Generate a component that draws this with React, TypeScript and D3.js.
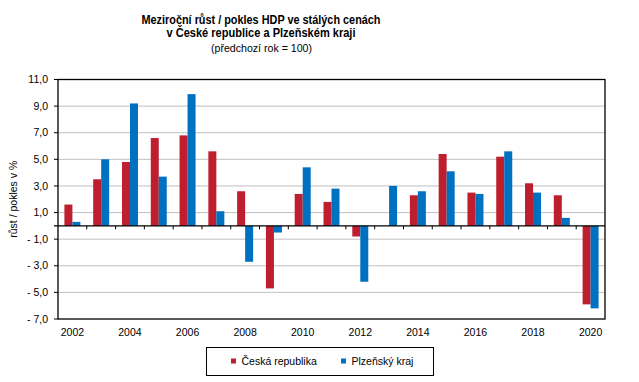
import React from 'react';
import * as d3 from 'd3';

const years = ['2002','2003','2004','2005','2006','2007','2008','2009','2010','2011','2012','2013','2014','2015','2016','2017','2018','2019','2020'];
const czValues = [1.6, 3.5, 4.8, 6.6, 6.8, 5.6, 2.6, -4.7, 2.4, 1.8, -0.8, 0.0, 2.3, 5.4, 2.5, 5.2, 3.2, 2.3, -5.9];
const plzenValues = [0.3, 5.0, 9.2, 3.7, 9.9, 1.1, -2.7, -0.5, 4.4, 2.8, -4.2, 3.0, 2.6, 4.1, 2.4, 5.6, 2.5, 0.6, -6.2];
const yTicks = [11, 9, 7, 5, 3, 1, -1, -3, -5, -7];
const seriesNames = ['Česká republika', 'Plzeňský kraj'];
const colors = ['#be1e2d', '#0070c0'];
const titleLines = ['Meziroční růst  / pokles HDP ve stálých cenách', 'v České republice a Plzeňském kraji', '(předchozí  rok = 100)'];

const W = 639, H = 382;
const plot = { left: 58, right: 605, top: 79.5, bottom: 319 };
const font = '"Liberation Sans", Arial, sans-serif';

const fmt = (v: number) => {
  const s = Math.abs(v).toFixed(1).replace('.', ',');
  return v < 0 ? '- ' + s : s;
};

export default function App() {
  const x = d3.scaleBand<string>().domain(years).range([plot.left, plot.right]).padding(0);
  const x1 = d3.scaleBand<string>().domain(seriesNames).range([0, x.bandwidth()]).paddingInner(0).paddingOuter(0.8);
  const y = d3.scaleLinear().domain([-7, 11]).range([plot.bottom, plot.top]);
  const y0 = y(0);
  const series = [czValues, plzenValues];

  return (
    <svg width={W} height={H} style={{ position: 'absolute', left: 0, top: 0, background: '#fff' }} fontFamily={font}>
      <rect width={W} height={H} fill="#fff" />
      {/* title */}
      <g textAnchor="middle" fill="#000">
        <text x={261} y={23.5} fontSize={12.5} fontWeight="bold" textLength={239} lengthAdjust="spacingAndGlyphs">{titleLines[0]}</text>
        <text x={261} y={37} fontSize={12.5} fontWeight="bold" textLength={189} lengthAdjust="spacingAndGlyphs">{titleLines[1]}</text>
        <text x={261.5} y={52} fontSize={11.5} textLength={101} lengthAdjust="spacingAndGlyphs">{titleLines[2]}</text>
      </g>

      {/* gridlines */}
      {yTicks.filter(t => t !== 11 && t !== -7).map(t => (
        <line key={t} x1={plot.left} x2={plot.right} y1={y(t)} y2={y(t)} stroke="#c0c0c0" strokeWidth={1} />
      ))}

      {/* bars */}
      {series.map((vals, si) => (
        <g key={si} fill={colors[si]}>
          {vals.map((v, i) => (
            <rect key={i}
              x={(x(years[i]) as number) + (x1(seriesNames[si]) as number)}
              width={x1.bandwidth()}
              y={Math.min(y(v), y0)}
              height={Math.abs(y(v) - y0)} />
          ))}
        </g>
      ))}

      {/* frame */}
      <rect x={plot.left} y={plot.top} width={plot.right - plot.left} height={plot.bottom - plot.top} fill="none" stroke="#000" strokeWidth={1.3} />

      {/* y ticks */}
      {yTicks.map(t => (
        <g key={t}>
          <line x1={plot.left - 4} x2={plot.left} y1={y(t)} y2={y(t)} stroke="#000" />
          <text x={48} y={y(t)} dy="0.35em" textAnchor="end" fontSize={10.5} fill="#000">{fmt(t)}</text>
        </g>
      ))}

      {/* zero axis with category ticks */}
      <line x1={plot.left - 4} x2={plot.right} y1={y0} y2={y0} stroke="#000" strokeWidth={1.3} />
      {years.slice(1).map(yr => (
        <line key={yr} x1={x(yr)} x2={x(yr)} y1={y0} y2={y0 + 3.5} stroke="#000" />
      ))}

      {/* x labels */}
      {years.filter((_, i) => i % 2 === 0).map(yr => (
        <text key={yr} x={(x(yr) as number) + x.bandwidth() / 2} y={336} textAnchor="middle" fontSize={10.5} fill="#000">{yr}</text>
      ))}

      {/* y title */}
      <text transform={`translate(16.5, ${(plot.top + plot.bottom) / 2}) rotate(-90)`} textAnchor="middle" fontSize={10.5} fill="#000">růst / pokles v %</text>

      {/* legend */}
      <rect x={206.5} y={347.5} width={227} height={28} fill="#fff" stroke="#000" />
      <rect x={231} y={358.5} width={5} height={5} fill={colors[0]} />
      <text x={241.5} y={365} fontSize={10.5} fill="#000">{seriesNames[0]}</text>
      <rect x={341} y={358.5} width={5} height={5} fill={colors[1]} />
      <text x={351.5} y={365} fontSize={10.5} fill="#000">{seriesNames[1]}</text>
    </svg>
  );
}
